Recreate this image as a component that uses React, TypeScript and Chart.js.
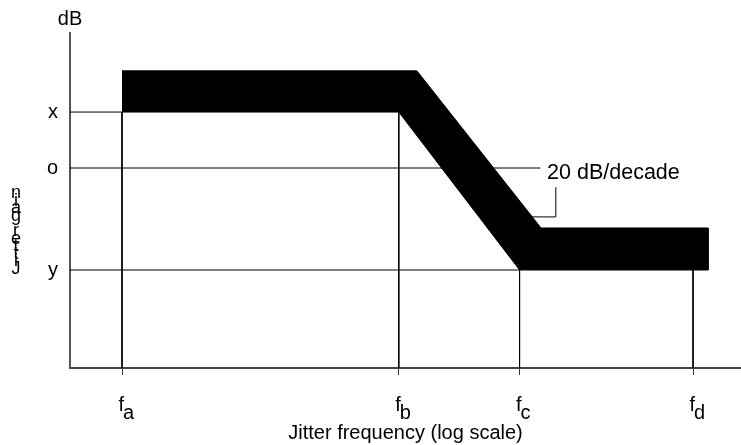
import React, { useEffect, useRef } from 'react';
import { Chart, registerables } from 'chart.js';

Chart.register(...registerables);

const FONT = "'Liberation Sans', Arial, Helvetica, sans-serif";

// x: relative log-frequency units (0..100); y: relative gain units (0..100)
const xTickValues = [7.75, 49.0, 67.0, 92.85];
const xTickSubscripts = ['a', 'b', 'c', 'd'];
const yTickValues = [29.25, 59.7, 76.4];
const yTickLabels = ['y', 'o', 'x'];

const xAxisTitle = 'Jitter frequency (log scale)';
const yAxisTitle = 'Jitter gain';
const yUnitLabel = 'dB';

// Jitter tolerance band polygon
const bandX = [7.75, 51.7, 70.2, 95.1, 95.1, 67.0, 49.0, 7.75];
const bandY = [88.7, 88.7, 41.8, 41.8, 29.25, 29.25, 76.4, 76.4];

// Guide (drop) lines
const guideLinesX = [
  [0, 7.75, 7.75],
  [49.0, 49.0],
  [0, 70.1],
  [0, 67.0, 67.0],
  [92.85, 92.85],
];
const guideLinesY = [
  [76.4, 76.4, 0],
  [76.4, 0],
  [59.7, 59.7],
  [29.25, 29.25, 0],
  [29.25, 0],
];

// Annotation leader + text
const leaderX = [68.5, 72.4, 72.4];
const leaderY = [45.1, 45.1, 54.0];
const annotationText = '20 dB/decade';
const annotationX = 71.1;
const annotationY = 56.4;

const toPoints = (xs: number[], ys: number[]) => xs.map((x, i) => ({ x, y: ys[i] }));

const textPlugin = {
  id: 'schematicText',
  afterDraw(chart: any) {
    const { ctx, scales } = chart;
    const xs = scales.x;
    const ys = scales.y;
    ctx.save();
    ctx.fillStyle = '#000';

    // unit label above y axis
    ctx.font = `20px ${FONT}`;
    ctx.textAlign = 'center';
    ctx.textBaseline = 'alphabetic';
    ctx.fillText(yUnitLabel, xs.left, 25);

    // x tick labels with subscripts
    xTickValues.forEach((v, i) => {
      const px = xs.getPixelForValue(v);
      ctx.font = `20px ${FONT}`;
      ctx.textAlign = 'right';
      ctx.fillText('f', px + 2, 411);
      ctx.textAlign = 'left';
      ctx.fillText(xTickSubscripts[i], px + 1, 419);
    });

    // stacked (upright) y axis title, bottom to top
    ctx.font = `18px ${FONT}`;
    ctx.textAlign = 'center';
    const chars = yAxisTitle.split('');
    chars.forEach((ch, i) => {
      ctx.fillText(ch, 16, 274 - i * 7.6);
    });

    // annotation
    ctx.font = `21.5px ${FONT}`;
    ctx.textAlign = 'left';
    ctx.fillText(annotationText, xs.getPixelForValue(annotationX), ys.getPixelForValue(annotationY));

    ctx.restore();
  },
};

export default function App() {
  const canvasRef = useRef<HTMLCanvasElement | null>(null);

  useEffect(() => {
    if (!canvasRef.current) return;
    const guideDatasets = guideLinesX.map((xs, i) => ({
      data: toPoints(xs, guideLinesY[i]),
      borderColor: '#000',
      borderWidth: 1,
      pointRadius: 0,
      fill: false,
    }));
    const chart = new Chart(canvasRef.current, {
      type: 'line',
      data: {
        datasets: [
          {
            data: toPoints(bandX, bandY),
            borderColor: '#000',
            backgroundColor: '#000',
            borderWidth: 1,
            pointRadius: 0,
            fill: 'shape',
          } as any,
          ...guideDatasets,
          {
            data: toPoints(leaderX, leaderY),
            borderColor: '#000',
            borderWidth: 1,
            pointRadius: 0,
            fill: false,
          },
        ],
      },
      options: {
        responsive: false,
        animation: false,
        layout: { padding: { top: 33, left: 0, right: 0, bottom: 0 } },
        plugins: { legend: { display: false }, tooltip: { enabled: false } },
        scales: {
          x: {
            type: 'linear',
            min: 0,
            max: 100,
            position: 'bottom',
            afterFit: (s: any) => { s.height = 77; },
            afterBuildTicks: (s: any) => { s.ticks = xTickValues.map((value) => ({ value })); },
            ticks: { display: false },
            grid: { display: true, drawOnChartArea: false, drawTicks: true, tickLength: 7, color: '#333', lineWidth: 1 },
            border: { display: true, color: '#444', width: 2 },
            title: {
              display: true,
              text: xAxisTitle,
              color: '#000',
              font: { family: FONT, size: 20 },
              padding: { top: 0, bottom: 0 },
            },
          },
          y: {
            type: 'linear',
            min: 0,
            max: 100,
            afterFit: (s: any) => { s.width = 70; },
            afterBuildTicks: (s: any) => { s.ticks = yTickValues.map((value) => ({ value })); },
            ticks: {
              color: '#000',
              font: { family: FONT, size: 20 },
              padding: 12,
              callback: (_v: any, index: number) => yTickLabels[index],
            },
            grid: { display: false, drawTicks: false },
            border: { display: true, color: '#555', width: 2 },
          },
        },
      } as any,
      plugins: [textPlugin],
    });
    return () => chart.destroy();
  }, []);

  return (
    <div style={{ position: 'fixed', left: 0, top: 0, width: 741, height: 445, background: '#fff' }}>
      <canvas ref={canvasRef} width={741} height={445} style={{ display: 'block' }} />
    </div>
  );
}
